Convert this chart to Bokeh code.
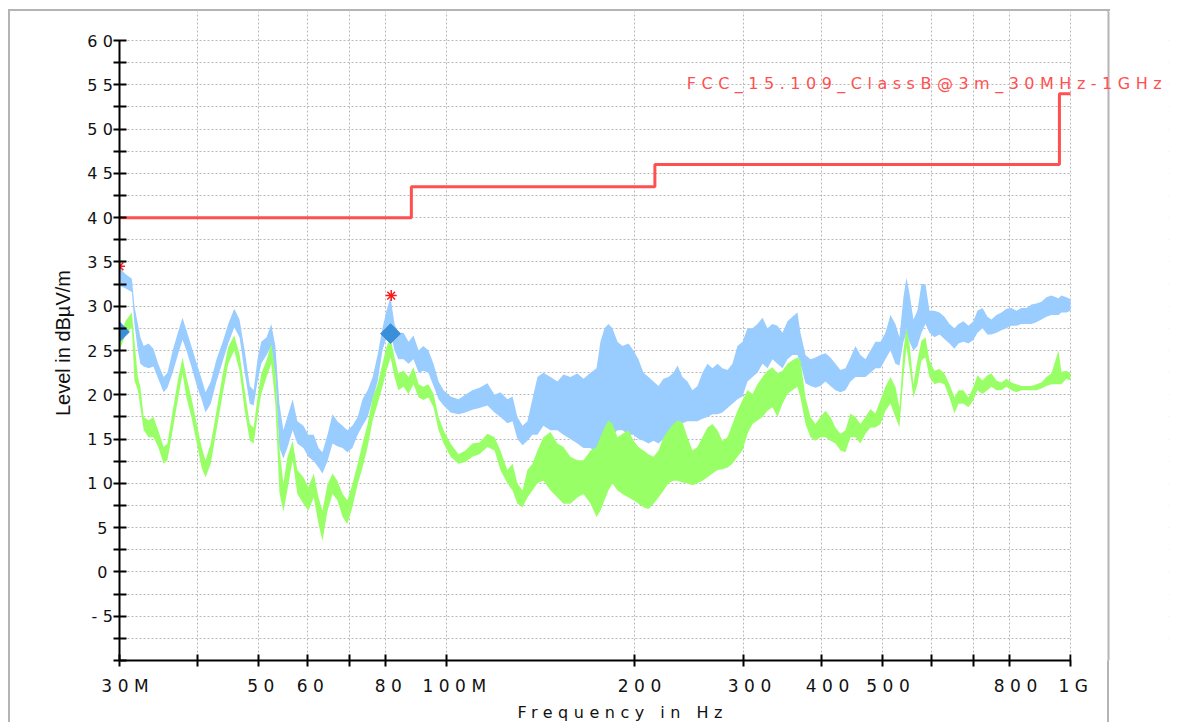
import numpy as np
from bokeh.plotting import figure
from bokeh.models import Range1d, FixedTicker, Label, BoxAnnotation, Span
from bokeh.layouts import row, column
from bokeh.embed import file_html
from bokeh.resources import INLINE

# ---------------- data ----------------
freq_mhz = [
    30.0, 30.7, 31.4, 31.7, 32.1, 32.4, 32.8, 33.4, 34.0, 34.6,
    35.3, 35.8, 36.5, 37.2, 37.85, 38.4, 39.1, 39.9, 40.6, 41.2,
    42.0, 42.9, 43.9, 44.8, 45.8, 46.7, 47.6, 48.5, 49.2, 49.9,
    50.6, 51.6, 52.5, 53.3, 54.1, 54.9, 55.7, 56.8, 57.8, 59.1,
    60.2, 61.4, 62.5, 63.4, 64.6, 65.8, 67.0, 68.3, 69.5, 70.8,
    72.2, 73.5, 74.9, 76.3, 77.7, 79.1, 80.3, 81.5, 82.7, 83.9,
    85.5, 87.1, 88.7, 90.4, 92.0, 93.7, 95.5, 97.3, 99.1, 101.7,
    104.7, 107.4, 110.2, 113.1, 116.5, 119.6, 122.2, 125.4, 127.8, 130.1,
    132.6, 135.0, 137.5, 140.1, 143.2, 147.0, 150.8, 154.2, 158.2, 162.3,
    166.0, 170.4, 174.2, 176.7, 179.4, 182.0, 184.7, 188.2, 191.7, 196.0,
    199.6, 203.3, 207.1, 211.0, 214.9, 218.9, 223.0, 227.1, 231.3, 234.8,
    239.1, 243.6, 248.1, 252.7, 257.4, 262.2, 267.1, 272.1, 277.1, 282.3,
    287.5, 292.9, 298.4, 303.9, 309.6, 315.3, 321.2, 327.2, 333.2, 339.4,
    345.8, 352.2, 358.7, 365.4, 369.5, 376.4, 383.4, 390.5, 397.7, 405.1,
    412.7, 420.4, 428.2, 436.1, 444.3, 452.5, 460.9, 469.5, 478.3, 487.1,
    496.2, 505.4, 514.8, 524.4, 532.2, 540.1, 546.1, 552.2, 560.4, 568.7,
    577.2, 585.8, 594.5, 605.5, 616.8, 628.3, 640.0, 651.9, 661.6, 673.9,
    686.4, 699.2, 709.6, 722.8, 736.2, 747.2, 761.0, 775.2, 789.6, 804.3,
    819.3, 834.5, 850.1, 865.9, 882.0, 898.4, 915.1, 932.1, 956.5, 967.1,
    985.1, 1000.0,
]

# Peak detector trace (light blue): upper / lower envelope in dBuV/m
peak_hi = [
    34.3, 33.6, 33.1, 30.0, 28.0, 26.5, 25.5, 25.8, 25.2, 23.5,
    22.0, 22.5, 25.0, 27.0, 28.7, 27.3, 25.5, 23.5, 21.8, 20.3,
    21.5, 24.0, 26.0, 28.0, 29.7, 28.5, 25.0, 21.0, 20.5, 24.0,
    26.0, 26.5, 28.0, 25.5, 19.0, 16.0, 17.5, 19.5, 17.0, 16.5,
    15.5, 15.5, 14.0, 13.5, 15.5, 17.8, 17.0, 16.5, 16.0, 16.5,
    17.5, 19.5, 20.5, 22.0, 24.5, 27.5, 29.5, 31.0, 28.0, 27.0,
    27.0, 26.0, 26.7, 25.0, 25.5, 25.0, 23.5, 21.5, 20.5, 19.8,
    19.5, 20.0, 20.5, 20.8, 21.3, 20.0, 20.3, 19.5, 19.8, 17.5,
    16.5, 17.0, 19.5, 22.0, 22.5, 22.0, 21.5, 22.3, 22.0, 22.4,
    21.8, 22.5, 23.0, 26.0, 27.5, 28.0, 27.5, 26.0, 25.5, 25.8,
    25.0, 24.0, 22.5, 22.0, 21.5, 21.0, 21.8, 22.0, 22.5, 23.3,
    22.0, 21.5, 20.5, 21.0, 22.5, 23.5, 23.0, 23.5, 23.0, 22.8,
    23.5, 25.5, 26.0, 27.5, 27.5, 28.0, 28.7, 27.5, 28.0, 27.8,
    27.0, 28.3, 28.8, 29.3, 27.0, 24.5, 24.0, 24.2, 24.5, 24.7,
    24.2, 23.5, 22.8, 23.0, 24.2, 25.5, 24.5, 24.0, 25.0, 26.0,
    26.0, 27.0, 29.0, 28.0, 26.5, 31.0, 33.2, 31.5, 28.5, 29.5,
    32.5, 32.5, 29.5, 29.5, 29.3, 28.8, 28.0, 27.5, 28.0, 28.3,
    27.8, 28.3, 29.5, 29.8, 28.8, 28.5, 29.0, 29.3, 29.7, 29.8,
    29.5, 29.8, 29.8, 30.2, 30.3, 30.5, 31.0, 31.2, 30.9, 31.2,
    31.0, 30.8,
]
peak_lo = [
    32.3, 32.0, 31.6, 28.0, 25.0, 23.5, 23.2, 23.0, 23.2, 21.8,
    20.3, 20.8, 22.5, 24.5, 26.2, 25.0, 23.2, 21.0, 19.5, 18.0,
    19.0, 21.5, 23.8, 25.8, 27.6, 26.5, 22.5, 19.0, 18.8, 21.5,
    23.5, 24.5, 25.5, 22.0, 14.0, 12.8, 14.0, 16.0, 14.5, 14.0,
    13.0, 12.5, 11.8, 11.1, 12.5, 14.5, 14.2, 14.0, 13.5, 14.0,
    15.5, 16.5, 17.5, 19.5, 21.5, 25.0, 26.5, 27.0, 25.0, 24.0,
    24.0, 23.5, 24.0, 22.5, 22.7, 22.5, 21.0, 19.5, 18.8, 18.0,
    17.8, 18.0, 18.3, 18.5, 18.8, 18.0, 17.5, 16.8, 17.0, 15.0,
    14.3, 14.8, 15.5, 15.5, 16.5, 16.0, 16.0, 15.5, 15.0, 14.5,
    14.0, 14.0, 13.3, 13.5, 14.0, 15.0, 15.5, 16.0, 16.0, 15.5,
    15.5, 15.0, 14.8, 14.5, 14.8, 14.5, 15.0, 15.5, 16.0, 16.5,
    16.8, 17.0, 17.0, 17.0, 17.3, 17.5, 17.8, 17.8, 18.0, 18.5,
    19.0, 19.5, 19.8, 21.5, 22.0, 22.5, 23.5, 23.0, 24.0, 23.5,
    23.0, 24.0, 24.5, 24.5, 23.5, 21.3, 21.0, 20.8, 21.0, 21.5,
    21.0, 20.5, 20.3, 20.5, 21.5, 22.0, 22.0, 22.0, 22.5, 23.0,
    23.0, 24.0, 25.0, 23.5, 23.3, 26.0, 27.0, 26.0, 25.0, 25.5,
    27.0, 28.0, 27.0, 26.5, 26.8, 26.3, 25.8, 25.2, 25.8, 26.0,
    25.8, 26.2, 27.0, 27.5, 26.8, 26.8, 27.0, 27.3, 27.5, 27.8,
    27.8, 28.0, 28.0, 28.0, 28.2, 28.5, 28.8, 29.0, 29.0, 29.3,
    29.3, 29.5,
]

# Average detector trace (light green): upper / lower envelope
avg_hi = [
    26.5, 28.4, 29.3, 26.1, 22.0, 20.9, 17.5, 17.1, 17.5, 16.0,
    14.1, 14.5, 18.2, 21.6, 24.2, 22.0, 19.7, 16.7, 14.1, 12.6,
    14.5, 18.2, 22.4, 25.4, 26.7, 24.6, 20.5, 16.7, 16.3, 19.7,
    22.4, 23.9, 25.8, 22.4, 14.0, 10.0, 12.9, 14.8, 11.5, 10.7,
    9.6, 11.1, 8.4, 6.9, 9.9, 11.1, 10.3, 8.8, 8.1, 9.9,
    12.2, 14.5, 16.7, 19.7, 21.2, 23.5, 25.4, 26.5, 24.2, 22.4,
    22.7, 22.0, 23.1, 21.2, 20.9, 21.2, 20.1, 17.5, 16.0, 14.5,
    13.3, 13.7, 14.5, 14.6, 15.6, 15.2, 13.7, 11.5, 12.2, 10.0,
    9.2, 11.5, 12.2, 13.7, 15.2, 15.8, 14.5, 14.1, 13.0, 12.6,
    12.6, 13.7, 14.1, 15.2, 16.3, 17.1, 16.7, 15.2, 15.6, 16.0,
    14.8, 14.1, 13.7, 13.3, 13.0, 13.7, 15.2, 16.0, 16.7, 17.1,
    16.9, 15.2, 13.7, 14.1, 15.2, 16.3, 16.7, 16.0, 14.8, 15.2,
    16.7, 18.2, 19.4, 20.5, 20.1, 21.2, 22.0, 22.7, 23.1, 22.4,
    22.7, 23.5, 23.9, 24.2, 23.9, 19.7, 17.5, 16.7, 17.5, 18.2,
    17.5, 16.3, 15.6, 16.0, 17.9, 17.5, 16.7, 17.5, 18.4, 17.9,
    19.4, 20.9, 22.0, 20.9, 18.6, 25.0, 27.6, 25.8, 21.2, 23.9,
    26.1, 26.5, 23.9, 22.7, 22.9, 22.4, 21.2, 19.7, 20.5, 20.5,
    19.7, 20.9, 22.2, 21.6, 22.2, 22.4, 21.6, 21.4, 21.8, 21.4,
    21.2, 21.0, 21.0, 21.0, 21.2, 21.4, 22.0, 22.4, 25.0, 22.6,
    22.7, 22.4,
]
avg_lo = [
    25.0, 26.9, 27.6, 21.6, 20.5, 18.6, 16.0, 15.2, 15.2, 14.1,
    12.2, 12.6, 16.0, 19.4, 22.4, 19.7, 17.5, 14.5, 11.8, 10.7,
    12.2, 16.0, 20.1, 23.5, 25.0, 22.7, 18.2, 14.8, 14.5, 17.5,
    20.1, 22.0, 23.5, 19.0, 9.0, 6.8, 9.2, 12.6, 8.8, 7.7,
    6.9, 8.4, 5.4, 3.5, 6.9, 8.8, 8.1, 6.2, 5.4, 7.3,
    9.9, 11.8, 14.1, 17.1, 19.0, 20.9, 22.7, 24.2, 22.0, 20.5,
    20.9, 20.1, 21.2, 19.7, 19.4, 19.7, 18.6, 16.0, 14.5, 13.0,
    12.2, 12.4, 13.0, 13.3, 14.1, 13.7, 11.5, 10.0, 9.2, 7.7,
    7.3, 8.4, 9.2, 10.0, 10.3, 9.2, 8.4, 7.7, 7.7, 8.4,
    8.8, 7.7, 6.2, 6.9, 8.1, 9.2, 10.0, 9.2, 8.8, 8.4,
    8.1, 7.7, 7.3, 7.1, 7.7, 8.4, 9.2, 10.0, 10.3, 10.3,
    10.1, 10.0, 9.8, 10.0, 10.3, 10.7, 11.1, 11.5, 11.6, 11.8,
    12.2, 13.0, 13.7, 15.6, 16.7, 17.1, 17.5, 18.2, 18.6, 17.5,
    19.0, 20.1, 20.5, 20.9, 19.7, 16.7, 15.2, 14.8, 15.2, 15.2,
    14.8, 14.5, 13.7, 13.5, 15.2, 15.2, 14.5, 15.6, 16.3, 16.3,
    16.7, 18.2, 19.0, 17.5, 16.3, 22.0, 25.4, 23.1, 19.7, 21.2,
    23.9, 24.2, 22.0, 21.2, 21.4, 21.2, 19.7, 17.9, 19.0, 19.0,
    18.6, 19.4, 20.5, 20.1, 20.5, 20.9, 20.5, 20.5, 20.9, 20.5,
    20.3, 20.5, 20.5, 20.5, 20.5, 20.7, 21.0, 21.2, 21.2, 21.2,
    21.8, 21.6,
]

# Limit line FCC 15.109 Class B @ 3 m
limit_freq = [30, 88, 88, 216, 216, 960, 960, 1000]
limit_level = [40.0, 40.0, 43.5, 43.5, 46.0, 46.0, 54.0, 54.0]
limit_name = "FCC_15.109_ClassB@3m_30MHz-1GHz"

# Markers
peak_mark_freq = [30.0, 81.7]
peak_mark_level = [34.5, 31.2]
final_mark_freq = [30.0, 81.5]
final_mark_level = [27.1, 26.9]

# Axes
x_ticks = [30, 40, 50, 60, 70, 80, 100, 200, 300, 400, 500, 600, 700, 800, 1000]
x_labels = ["30M", "", "50", "60", "", "80", "100M", "200", "300", "400", "500", "", "", "800", "1G"]
y_ticks = [-10, -7.5, -5, -2.5, 0, 2.5, 5, 7.5, 10, 12.5, 15, 17.5, 20, 22.5, 25, 27.5,
           30, 32.5, 35, 37.5, 40, 42.5, 45, 47.5, 50, 52.5, 55, 57.5, 60]
y_labels = ["", "", "-5", "", "0", "", "5", "", "10", "", "15", "", "20", "", "25", "",
            "30", "", "35", "", "40", "", "45", "", "50", "", "55", "", "60"]
x_title = "Frequency in Hz"
y_title = "Level in dBµV/m"

BORDER = "#b4b4b4"
SPACED = {"letter-spacing": "5.5px"}

# ---------------- layout geometry (pixels) ----------------
AXIS_W = 951          # 30 MHz .. 1 GHz
AXIS_H = 620          # -10 .. 60 dB
FRAME_W = 1049        # frame runs on past 1 GHz so the limit caption is not cut
FRAME_H = 649         # frame runs up to the top of the panel
DECADES = np.log10(1000 / 30)
x_end = 30 * 10 ** (DECADES * FRAME_W / AXIS_W)
y_end = -10 + 70 * FRAME_H / AXIS_H
border_x = 30 * 10 ** (DECADES * 989 / AXIS_W)   # right-hand edge of the panel

# ---------------- main plot ----------------
p = figure(width=1090, height=689, x_axis_type="log",
           x_range=Range1d(30, x_end), y_range=Range1d(-10, y_end),
           output_backend="svg", toolbar_location=None,
           min_border_left=39, min_border_right=2, min_border_top=0, min_border_bottom=40,
           styles=SPACED)
p.outline_line_color = None
p.background_fill_color = None
p.border_fill_color = None

p.xaxis.ticker = FixedTicker(ticks=x_ticks, minor_ticks=[])
p.xaxis.major_label_overrides = {t: l for t, l in zip(x_ticks, x_labels)}
p.xaxis.bounds = (30, 1000)
p.yaxis.ticker = FixedTicker(ticks=y_ticks, minor_ticks=[])
p.yaxis.major_label_overrides = {t: l for t, l in zip(y_ticks, y_labels)}
p.yaxis.bounds = (-10, 60)

for ax in (p.xaxis[0], p.yaxis[0]):
    ax.axis_line_color = "black"
    ax.axis_line_width = 2
    ax.major_tick_line_color = "black"
    ax.major_tick_line_width = 2
    ax.minor_tick_line_color = None
    ax.major_label_text_font = "DejaVu Sans"
    ax.major_label_text_color = "#111111"
p.xaxis.major_tick_in = 6
p.xaxis.major_tick_out = 6
p.xaxis.major_label_standoff = 9
p.xaxis.major_label_text_font_size = "17px"
p.yaxis.major_tick_in = 7
p.yaxis.major_tick_out = 6
p.yaxis.major_label_standoff = 6
p.yaxis.major_label_text_font_size = "16px"

p.xgrid.ticker = FixedTicker(ticks=x_ticks, minor_ticks=[])
p.ygrid.ticker = FixedTicker(ticks=y_ticks, minor_ticks=[])
p.grid.grid_line_color = "#b8b8b8"
p.grid.grid_line_dash = "2 2"
p.grid.grid_line_width = 1

p.varea(x=freq_mhz, y1=peak_lo, y2=peak_hi, fill_color="#99ccff")
p.varea(x=freq_mhz, y1=avg_lo, y2=avg_hi, fill_color="#99ff66")
p.line(limit_freq, limit_level, line_color="#ff5050", line_width=3)
p.scatter(final_mark_freq, final_mark_level, marker="square", angle=np.pi / 4, size=14,
          fill_color="#3b8ed8", line_color="#3b8ed8")
p.scatter(peak_mark_freq, peak_mark_level, marker="asterisk", size=11,
          line_color="#ff1a1a", line_width=1.5)

# blank out the grid beyond 1 GHz, then the panel's right edge, then the caption
p.add_layout(BoxAnnotation(left=1004, fill_color="white", fill_alpha=1.0, line_color=None))
p.add_layout(Span(location=border_x, dimension="height", line_color=BORDER, line_width=2))
p.add_layout(Label(x=243, y=55.1, text=limit_name, text_font="DejaVu Sans",
                   text_font_size="16px", text_color="#ff5050",
                   text_align="left", text_baseline="middle"))

# ---------------- y-axis title panel (no letter spacing) ----------------
lf = figure(width=70, height=689, x_range=Range1d(0, 70), y_range=Range1d(0, 689),
            output_backend="svg", toolbar_location=None, min_border=0,
            x_axis_location=None, y_axis_location=None)
lf.grid.visible = False
lf.outline_line_color = None
lf.add_layout(Label(x=52, y=337, text=y_title, angle=np.pi / 2,
                    text_align="center", text_baseline="middle",
                    text_font="Liberation Sans", text_font_size="20px", text_color="#111111"))

# ---------------- x-axis title strip ----------------
bf = figure(width=1160, height=22, x_range=Range1d(0, 1160), y_range=Range1d(0, 22),
            output_backend="svg", toolbar_location=None, min_border=0,
            x_axis_location=None, y_axis_location=None, styles=SPACED)
bf.grid.visible = False
bf.outline_line_color = None
bf.background_fill_color = None
bf.border_fill_color = None
bf.add_layout(Label(x=507, y=10, text=x_title, text_font="DejaVu Sans",
                    text_font_size="16px", text_color="#111111",
                    text_align="left", text_baseline="alphabetic"))

# panel frame: grey top/left edge (top edge stops at the panel's right side),
# grey right edge drawn as a thin background stripe
layout = column(row(lf, p), bf,
                styles={"margin-left": "8px", "margin-top": "9px",
                        "border-top": "2px solid " + BORDER,
                        "border-left": "2px solid " + BORDER,
                        "border-image": "linear-gradient(to right, %s 1101px, transparent 1101px) 1" % BORDER,
                        "background": "linear-gradient(to right, transparent 1097px, %s 1097px, %s 1099px, transparent 1099px)" % (BORDER, BORDER)})

open("out.html", "w").write(file_html(layout, INLINE))
